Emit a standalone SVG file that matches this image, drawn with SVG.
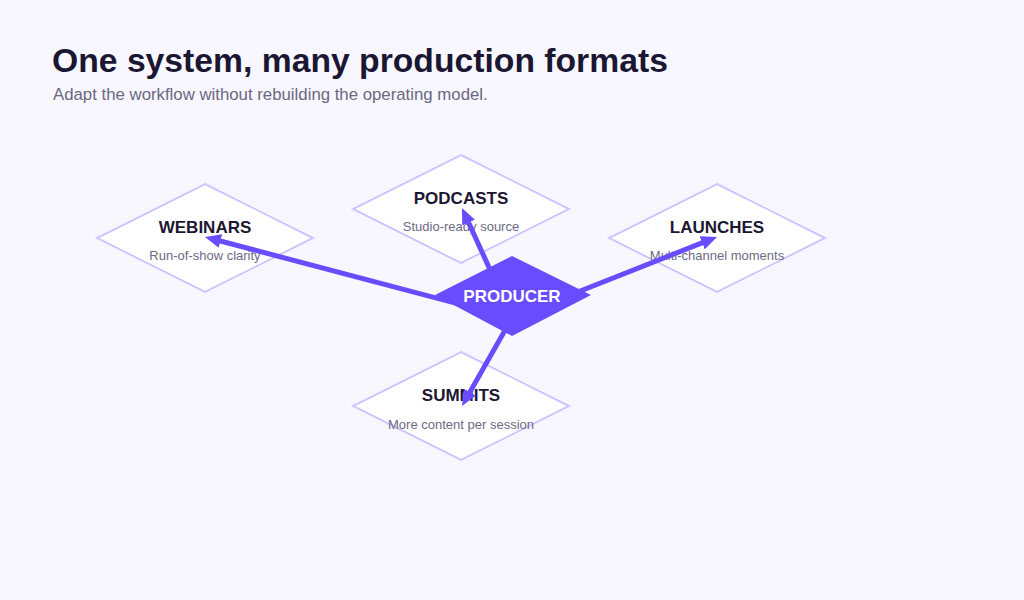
<svg xmlns="http://www.w3.org/2000/svg" width="1024" height="600" viewBox="0 0 1024 600">
<style>
  .title{font-family:"Liberation Sans",Arial,sans-serif;font-weight:bold;font-size:33.7px;fill:#1b1733}
  .subtitle{font-family:"Liberation Sans",Arial,sans-serif;font-size:16.8px;fill:#6b6880}
  .node{fill:#ffffff;stroke:#cfc6ff;stroke-width:2}
  .ntitle{font-family:"Liberation Sans",Arial,sans-serif;font-weight:bold;font-size:17px;fill:#1b1733;text-anchor:middle}
  .nsub{font-family:"Liberation Sans",Arial,sans-serif;font-size:13px;fill:#6e6a85;text-anchor:middle}
  .edge{stroke:#6a4cff;stroke-width:5;fill:none;marker-end:url(#arrow)}
  .hub{fill:#6a4cff}
  .htext{font-family:"Liberation Sans",Arial,sans-serif;font-weight:bold;font-size:17px;fill:#ffffff;text-anchor:middle}
</style>
<defs>
  <marker id="arrow" markerUnits="userSpaceOnUse" markerWidth="16" markerHeight="14" refX="8" refY="7" orient="auto">
    <path d="M0,0 L16,7 L0,14 z" fill="#6a4cff"/>
  </marker>
</defs>
<rect width="1024" height="600" fill="#f8f7ff"/>
<text class="title" x="52" y="72">One system, many production formats</text>
<text class="subtitle" x="53" y="100">Adapt the workflow without rebuilding the operating model.</text>

<g id="webinars">
  <polygon class="node" points="205,184 313,238 205,292 97,238"/>
  <text class="ntitle" x="205" y="233">WEBINARS</text>
  <text class="nsub" x="205" y="260">Run-of-show clarity</text>
</g>
<g id="podcasts">
  <polygon class="node" points="461,155 569,209 461,263 353,209"/>
  <text class="ntitle" x="461" y="204">PODCASTS</text>
  <text class="nsub" x="461" y="231">Studio-ready source</text>
</g>
<g id="launches">
  <polygon class="node" points="717,184 825,238 717,292 609,238"/>
  <text class="ntitle" x="717" y="233">LAUNCHES</text>
  <text class="nsub" x="717" y="260">Multi-channel moments</text>
</g>
<g id="summits">
  <polygon class="node" points="461,352 569,406 461,460 353,406"/>
  <text class="ntitle" x="461" y="401">SUMMITS</text>
  <text class="nsub" x="461" y="429">More content per session</text>
</g>

<g id="connectors">
  <line class="edge" x1="512" y1="318" x2="212.7" y2="239.0"/>
  <line class="edge" x1="512" y1="318" x2="465.3" y2="215.3"/>
  <line class="edge" x1="512" y1="318" x2="709.6" y2="239.9"/>
  <line class="edge" x1="512" y1="318" x2="466.0" y2="399.0"/>
</g>

<g id="producer">
  <polygon class="hub" points="512,256 591,295 512,336 435,295"/>
  <text class="htext" x="512" y="302">PRODUCER</text>
</g>
</svg>
